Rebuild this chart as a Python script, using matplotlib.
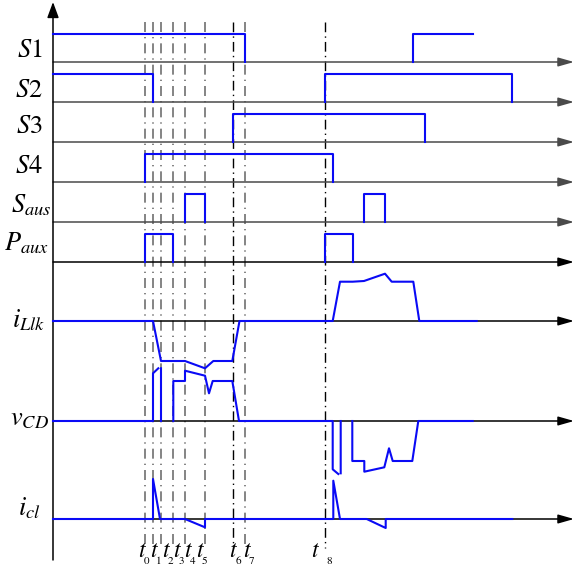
import numpy as np
import matplotlib.pyplot as plt

nan = np.nan

# mode boundaries on the time axis
t_marks = [145, 153, 161, 173, 185, 205, 233, 245, 325]
t_subs = ['0', '1', '2', '3', '4', '5', '6', '7', '8']
t_black = [6, 8]
t_label_x = [141, 153, 165, 176, 187.5, 199, 232.5, 246, 314]
t_sub_x = [147, 158.5, 170, 181.5, 193, 204.5, 238, 251.5, 329]

channel_names = [r'$S1$', r'$S2$', r'$S3$', r'$S4$', r'$S_{aus}$',
                 r'$P_{aux}$', r'$i_{Llk}$', r'$v_{CD}$', r'$i_{cl}$']
channel_base = [62, 102, 142, 182, 222, 262, 321, 421, 519]
label_base = [57, 97, 133, 173, 212, 250, 327, 425, 515]
label_right = [43, 43, 43, 43, 51, 49, 45, 49, 41]

# gate signals (0 = off, 1 = on), nan breaks the line
gate_amp = 28.5
s1_t = [53, 245, 245, nan, 412.7, 412.7, 472.7]
s1_v = [1, 1, 0, nan, 0, 1, 1]
s2_t = [53, 153, 153, nan, 325, 325, 512, 512]
s2_v = [1, 1, 0, nan, 0, 1, 1, 0]
s3_t = [233, 233, 424.7, 424.7]
s3_v = [0, 1, 1, 0]
s4_t = [145, 145, 332.7, 332.7]
s4_v = [0, 1, 1, 0]
saus_t = [185, 185, 205, 205, nan, 364, 364, 385, 385]
saus_v = [0, 1, 1, 0, nan, 0, 1, 1, 0]
paux_t = [145, 145, 173, 173, nan, 325, 325, 352.7, 352.7]
paux_v = [0, 1, 1, 0, nan, 0, 1, 1, 0]

# analog waveforms (amplitude, positive up)
illk_t = [53, 153, 161, 185, 205, 213.3, 232.3, 239.5, 332.7, 340, 352.7,
          364, 385, 391.7, 413.3, 419.3, 476.7]
illk_v = [0, 0, -40, -40, -47.3, -40, -40, 0, 0, 39.3, 39.3,
          40, 47.3, 39.3, 39.3, 0, 0]

vcd_t = [53, 153, 153, 158.3, nan, 161, 161, nan, 173.3, 173.3, 185, 185,
         205, 209, 212.7, 232.3, 239, 332.7, 332.7, 338.3, nan, 340.7, 340.7,
         nan, 352.3, 352.3, 364.3, 364.3, 384.3, 389, 392.7, 412.3, 418.3, 472.7]
vcd_v = [0, 0, 47.7, 52.7, nan, 52.7, 0, nan, 0, 40, 40, 50.3,
         45.3, 27.7, 40, 40, 0, 0, -48.3, -53, nan, -52.3, 0,
         nan, 0, -40, -40, -50.7, -46.3, -27.3, -40, -40, 0, 0]

icl_t = [53, 153, 153, 160, 185, 205, 205, 333.3, 333.3, 340, 366.7,
         385.7, 385.7, 512.3]
icl_v = [0, 0, 40, 0, 0, -8.3, 0, 0, 38.3, 0, 0, -9, 0, 0]

plt.rcParams['mathtext.fontset'] = 'stix'

fig = plt.figure(figsize=(5.79, 5.68), dpi=100)
ax = fig.add_axes([0, 0, 1, 1])
ax.set_xlim(0, 579)
ax.set_ylim(568, 0)
ax.axis('off')

blue = '#0a0af5'

# vertical time markers
for i, tx in enumerate(t_marks):
    if i in t_black:
        ax.plot([tx, tx], [22, 548], color='k', lw=1.0,
                dashes=(7, 3, 1, 3), zorder=1)
    else:
        ax.plot([tx, tx], [22, 545], color='#707070', lw=1.2,
                dashes=(6, 3, 0.8, 3), zorder=1)
    ax.text(t_label_x[i], 557, 't', family='STIXGeneral', style='italic',
            fontsize=17, ha='center', va='baseline')
    ax.text(t_sub_x[i], 564, t_subs[i], family='STIXGeneral',
            fontsize=8, ha='center', va='baseline')

# axes with arrows
for i, yb in enumerate(channel_base):
    c = '#4a4a4a' if i < 5 else 'k'
    ax.annotate('', xy=(574, yb), xytext=(53, yb),
                arrowprops=dict(arrowstyle='-|>,head_length=0.95,head_width=0.27',
                                color=c, lw=1.1, shrinkA=0, shrinkB=0,
                                mutation_scale=10), zorder=2)
    ax.text(label_right[i], label_base[i], channel_names[i], fontsize=19,
            ha='right', va='baseline')

ax.annotate('', xy=(53, 2), xytext=(53, 560),
            arrowprops=dict(arrowstyle='-|>,head_length=0.95,head_width=0.35',
                            color='k', lw=1.1, shrinkA=0, shrinkB=0,
                            mutation_scale=10), zorder=2)

# gate signals
gates = [(s1_t, s1_v), (s2_t, s2_v), (s3_t, s3_v), (s4_t, s4_v),
         (saus_t, saus_v), (paux_t, paux_v)]
for i, (tt, vv) in enumerate(gates):
    y = channel_base[i] - gate_amp * np.array(vv, dtype=float)
    ax.plot(tt, y, color=blue, lw=1.5, zorder=3)

# analog signals
for i, (tt, vv) in zip([6, 7, 8], [(illk_t, illk_v), (vcd_t, vcd_v), (icl_t, icl_v)]):
    y = channel_base[i] - np.array(vv, dtype=float)
    ax.plot(tt, y, color=blue, lw=1.5, zorder=3)

plt.savefig('out.png', dpi=100)
